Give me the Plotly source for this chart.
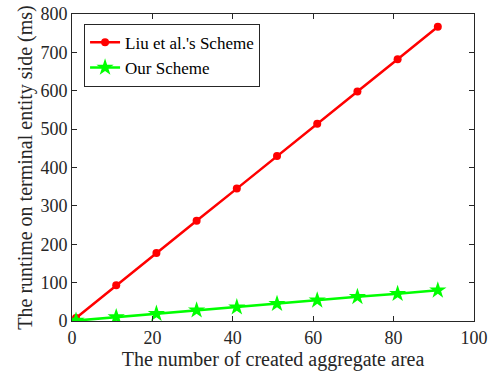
import plotly.graph_objects as go

# Number of created aggregate areas
areas = [1, 11, 21, 31, 41, 51, 61, 71, 81, 91]
# Runtime on the terminal entity side (ms)
liu_runtime = [8, 93, 177, 261, 345, 430, 514, 598, 682, 767]
our_runtime = [1, 10, 19, 28, 36, 45, 54, 63, 71, 80]

FONT = "Liberation Serif"

fig = go.Figure()
fig.add_trace(go.Scatter(
    x=areas, y=liu_runtime, name="Liu et al.'s Scheme",
    mode="lines+markers",
    line=dict(color="#ff0000", width=2.5),
    marker=dict(symbol="circle", size=8, color="#ff0000"),
))
fig.add_trace(go.Scatter(
    x=areas, y=our_runtime, name="Our Scheme",
    mode="lines+markers",
    line=dict(color="#00ff00", width=2.5),
    marker=dict(symbol="star", size=13, color="#00ff00"),
))

axis_common = dict(
    showgrid=False, zeroline=False, showline=True, mirror="ticks",
    linecolor="#262626", linewidth=1, ticks="inside", ticklen=5,
    tickcolor="#262626", tickfont=dict(family=FONT, size=18, color="#262626"),
    automargin=False,
)

fig.update_layout(
    width=496, height=377,
    margin=dict(l=72, r=22, t=14, b=56),
    paper_bgcolor="white", plot_bgcolor="white",
    font=dict(family=FONT, color="#262626"),
    xaxis=dict(range=[0, 100], tickvals=[0, 20, 40, 60, 80, 100],
               title=dict(text="The number of created aggregate area",
                          font=dict(family=FONT, size=20), standoff=5),
               **axis_common),
    yaxis=dict(range=[0, 800], tickvals=list(range(0, 801, 100)),
               title=dict(text="The runtime on terminal entity side (ms)",
                          font=dict(family=FONT, size=20), standoff=2),
               **axis_common),
    legend=dict(x=0.03, y=0.968, xanchor="left", yanchor="top",
                bgcolor="white", bordercolor="#262626", borderwidth=1,
                font=dict(family=FONT, size=17, color="#000000"),
                itemwidth=30, tracegroupgap=0),
    showlegend=True,
)

fig.write_html("out.html")
